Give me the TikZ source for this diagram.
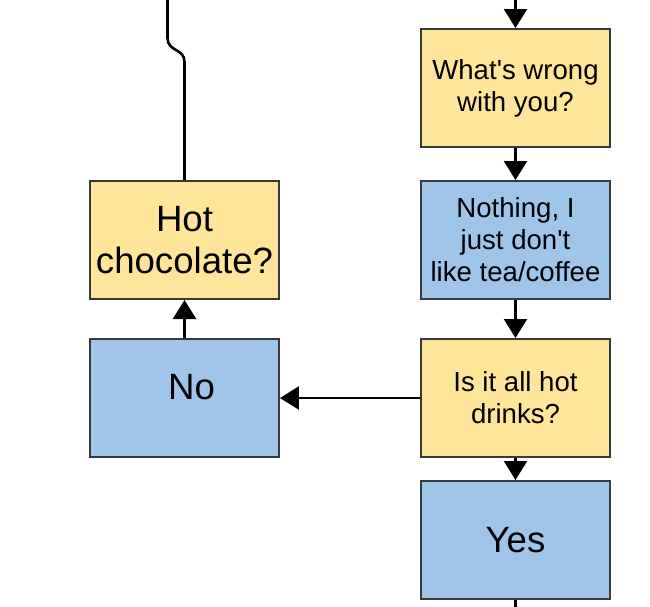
\documentclass[tikz,border=0pt]{standalone}
\usepackage{fontspec}
\setmainfont{Liberation Sans}
\usepackage{tikz}
\usetikzlibrary{arrows.meta}
\definecolor{qyellow}{RGB}{255,229,153}
\definecolor{qblue}{RGB}{159,197,232}
\definecolor{qborder}{RGB}{54,57,61}

\begin{document}
\begin{tikzpicture}[x=0.5pt, y=-0.5pt,
  qbox/.style={draw=qborder, line width=1pt, rectangle, minimum width=94.5pt, minimum height=59pt, inner sep=0pt, align=center, font=\fontsize{13.8}{16}\selectfont},
  bigtext/.style={font=\fontsize{18.3}{21}\selectfont},
  link/.style={line width=1.3pt, color=black},
  >={Triangle[width=11.5pt,length=9.5pt]}]
\useasboundingbox (0,0) rectangle (650,607);
% right column
\node[qbox, fill=qyellow] (wrong) at (515.5,88) {What\textquotesingle s wrong\\with you?};
\node[qbox, fill=qblue] (nothing) at (515.5,240) {Nothing, I\\just don\textquotesingle t\\like tea/coffee};
\node[qbox, fill=qyellow] (hotdrinks) at (515.5,398) {Is it all hot\\drinks?};
\node[qbox, bigtext, fill=qblue] (yes) at (515.5,540) {Yes};
% left column
\node[qbox, bigtext, fill=qyellow] (choc) at (184.5,240) {Hot\\chocolate?};
\node[qbox, bigtext, fill=qblue] (no) at (184.5,398) {\raisebox{11pt}{\hspace*{7pt}No}};
% loose ends
\coordinate (topin) at (515.5,0);
\coordinate (botout) at (515.5,607);
\coordinate (chocup) at (167.5,0);
\draw [->, link] (topin) -- (wrong);
\draw [->, link] (wrong) -- (nothing);
\draw [->, link] (nothing) -- (hotdrinks);
\draw [->, link] (hotdrinks) -- (yes);
\draw [link] (yes) -- (botout);
\draw [->, link] (hotdrinks) -- (no);
\draw [->, link] (no) -- (choc);
\draw [link] (choc.north) -- (184.5,62) .. controls (184.5,48) and (167.5,52) .. (167.5,38) -- (chocup);
\end{tikzpicture}
\end{document}
